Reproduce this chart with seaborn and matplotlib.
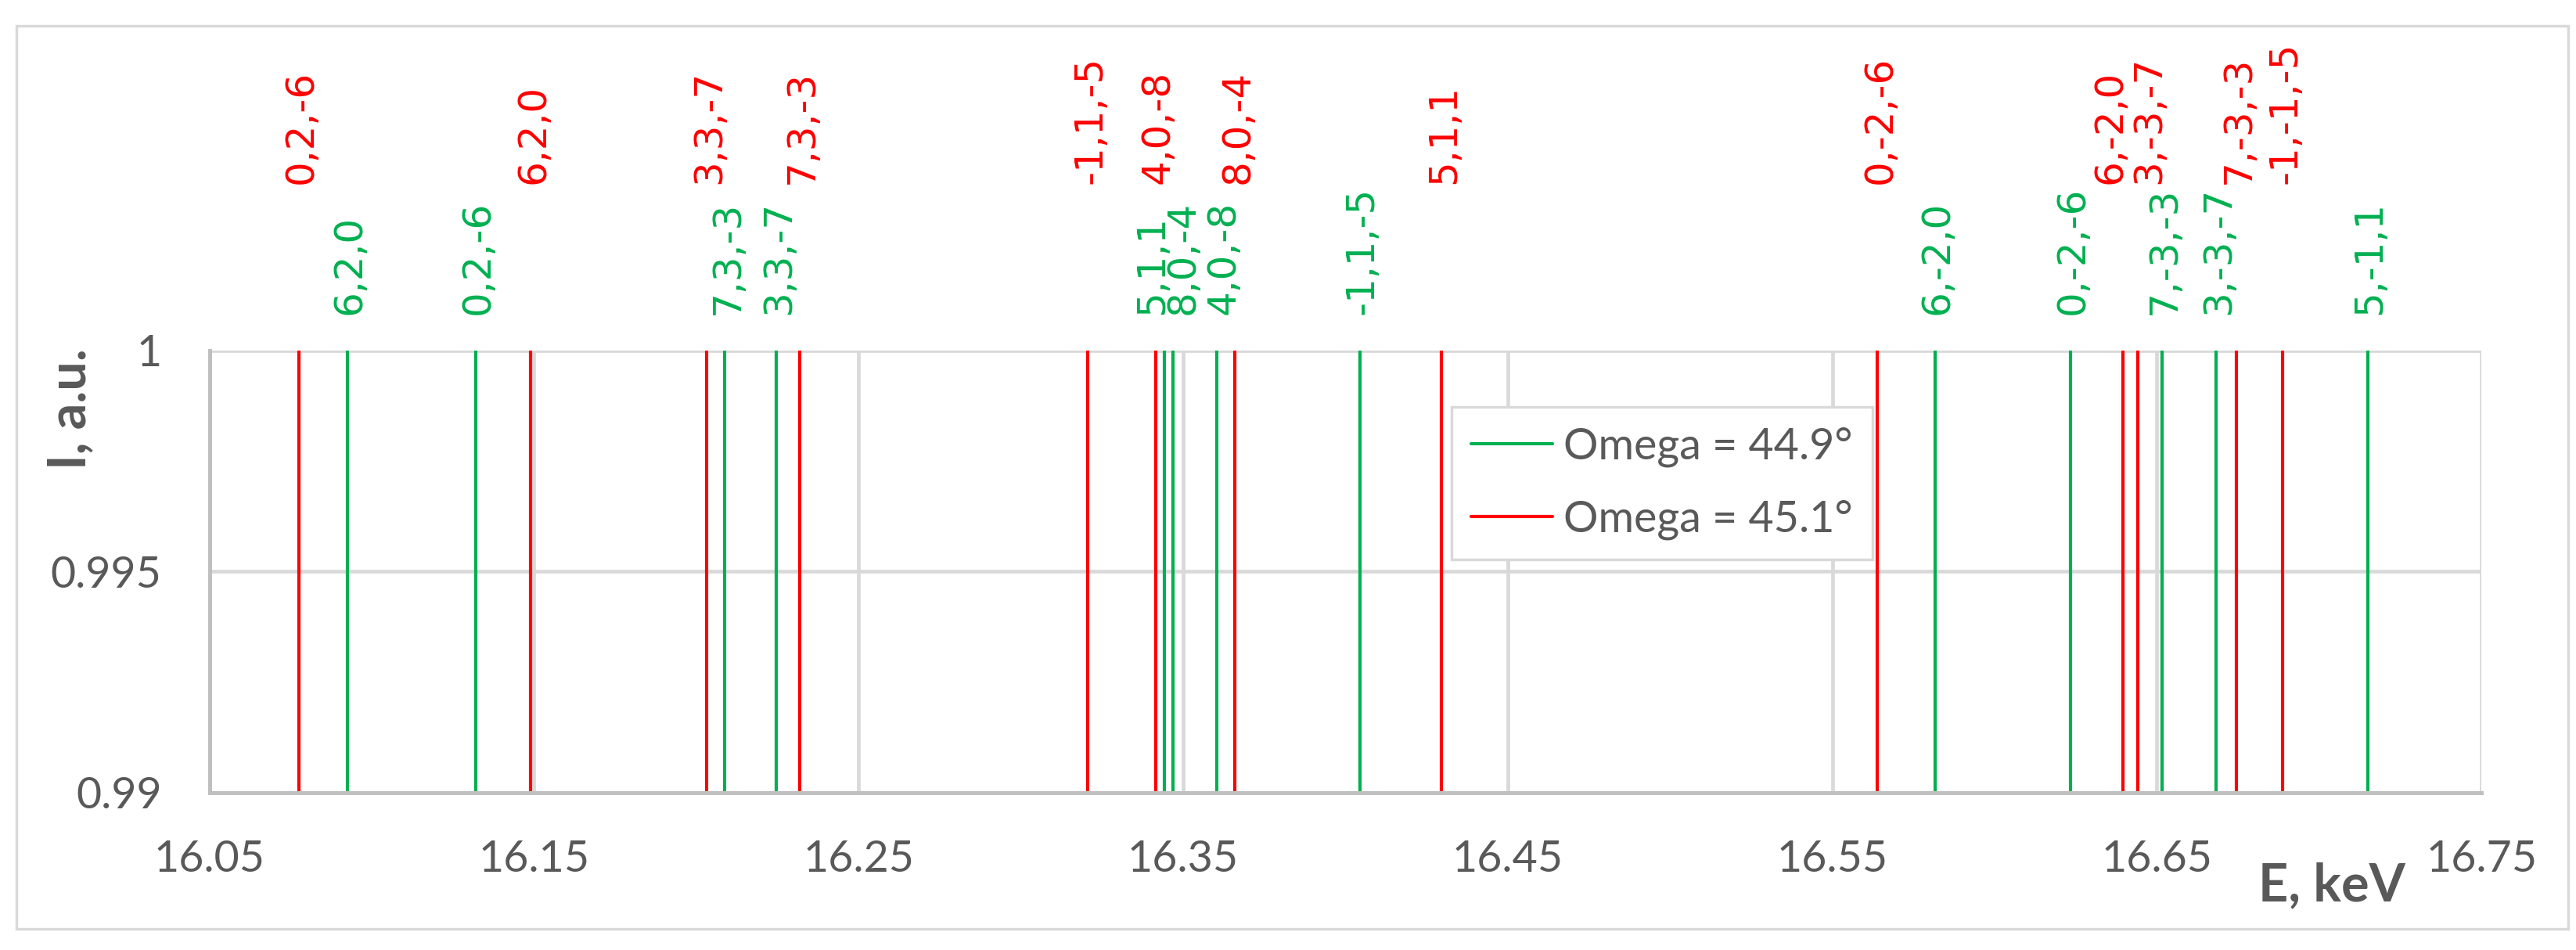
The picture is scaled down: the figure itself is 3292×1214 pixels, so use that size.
import numpy as np
import pandas as pd
import matplotlib
matplotlib.use("Agg")
import matplotlib.pyplot as plt
import seaborn as sns
from matplotlib.patches import Rectangle

# Peak positions (keV) and reflection labels for both omega settings
series = ["Omega = 44.9°", "Omega = 45.1°"]

e_449 = [16.0925, 16.1321, 16.2088, 16.2247, 16.3441, 16.3469, 16.3604,
         16.4044, 16.5816, 16.6234, 16.6516, 16.6683, 16.7149]
hkl_449 = ["6,2,0", "0,2,-6", "7,3,-3", "3,3,-7", "5,1,1", "8,0,-4", "4,0,-8",
           "-1,1,-5", "6,-2,0", "0,-2,-6", "7,-3,-3", "3,-3,-7", "5,-1,1"]

e_451 = [16.0776, 16.1490, 16.2032, 16.2319, 16.3206, 16.3415, 16.3660,
         16.4296, 16.5639, 16.6396, 16.6441, 16.6744, 16.6888]
hkl_451 = ["0,2,-6", "6,2,0", "3,3,-7", "7,3,-3", "-1,1,-5", "4,0,-8", "8,0,-4",
           "5,1,1", "0,-2,-6", "6,-2,0", "3,-3,-7", "7,-3,-3", "-1,-1,-5"]

i_low, i_high = 0.99, 1.0

x_ticks = [16.05, 16.15, 16.25, 16.35, 16.45, 16.55, 16.65, 16.75]
x_tick_labels = ["16.05", "16.15", "16.25", "16.35", "16.45", "16.55", "16.65", "16.75"]
y_ticks = [0.99, 0.995, 1.0]
y_tick_labels = ["0.99", "0.995", "1"]

GREEN = "#00B050"
RED = "#FF0000"
GREY = "#595959"

# long table: each peak is a vertical segment from i_low to i_high
rows = []
for name, energies in zip(series, [e_449, e_451]):
    for k, e in enumerate(energies):
        rows.append({"series": name, "peak": f"{name}-{k}", "E": e, "I": i_low})
        rows.append({"series": name, "peak": f"{name}-{k}", "E": e, "I": i_high})
df = pd.DataFrame(rows)

sns.set_theme(style="white")
plt.rcParams["font.family"] = ["Lato", "DejaVu Sans"]

fig = plt.figure(figsize=(32.92, 12.14), dpi=100)
ax = fig.add_axes([0.0813, 0.1656, 0.882, 0.4654])

sns.lineplot(data=df, x="E", y="I", hue="series", hue_order=series,
             units="peak", estimator=None, palette=[GREEN, RED],
             linewidth=3, ax=ax)

ax.set_xlim(16.05, 16.75)
ax.set_ylim(i_low, i_high)
ax.set_xticks(x_ticks)
ax.set_xticklabels(x_tick_labels)
ax.set_yticks(y_ticks)
ax.set_yticklabels(y_tick_labels)
ax.tick_params(axis="both", length=0, labelsize=40, labelcolor=GREY)
ax.tick_params(axis="x", pad=43)
ax.tick_params(axis="y", pad=44)

ax.set_axisbelow(True)
ax.grid(True, color="#d9d9d9", linewidth=3.4)
for side in ["top", "right"]:
    ax.spines[side].set_visible(False)
for side in ["left", "bottom"]:
    ax.spines[side].set_color("#bfbfbf")
    ax.spines[side].set_linewidth(3.6)

ax.set_xlabel("E, keV", fontsize=48, fontweight="bold", color=GREY)
ax.set_ylabel("I, a.u.", fontsize=48, fontweight="bold", color=GREY)
ax.xaxis.set_label_coords(0.934, -0.157)
ax.yaxis.set_label_coords(-0.0505, 0.867)

# reflection labels above the plot (small nudges where Excel spread them apart)
nudge = {("g", "5,1,1"): -13, ("g", "8,0,-4"): 7, ("g", "4,0,-8"): 4,
         ("r", "6,-2,0"): -14, ("r", "3,-3,-7"): 8}
for key, energies, labels, color, yfrac in [("g", e_449, hkl_449, GREEN, 1.081),
                                            ("r", e_451, hkl_451, RED, 1.377)]:
    for e, lab in zip(energies, labels):
        dx = 2.2 + nudge.get((key, lab), 0)
        ax.annotate(lab, xy=(e, yfrac), xycoords=("data", "axes fraction"),
                    xytext=(dx, 0), textcoords="offset points",
                    rotation=90, ha="center", va="bottom", fontsize=36,
                    color=color, family="DejaVu Sans", annotation_clip=False)

sns.move_legend(ax, loc="center", bbox_to_anchor=(0.6394, 0.700), title=None,
                fontsize=40, frameon=True, fancybox=False, edgecolor="#d9d9d9",
                framealpha=1, labelspacing=0.75, handlelength=1.87,
                handletextpad=0.25, borderpad=0.45, labelcolor=GREY)
leg = ax.get_legend()
leg.get_frame().set_linewidth(2.5)
for h in leg.legend_handles:
    h.set_linewidth(3)

# outer chart border
fig.patches.append(Rectangle((0.0064, 0.0222), 0.9906, 0.9506,
                             transform=fig.transFigure, fill=False,
                             edgecolor="#d9d9d9", linewidth=2.5))

fig.savefig("out.png", dpi=100)
plt.close(fig)
